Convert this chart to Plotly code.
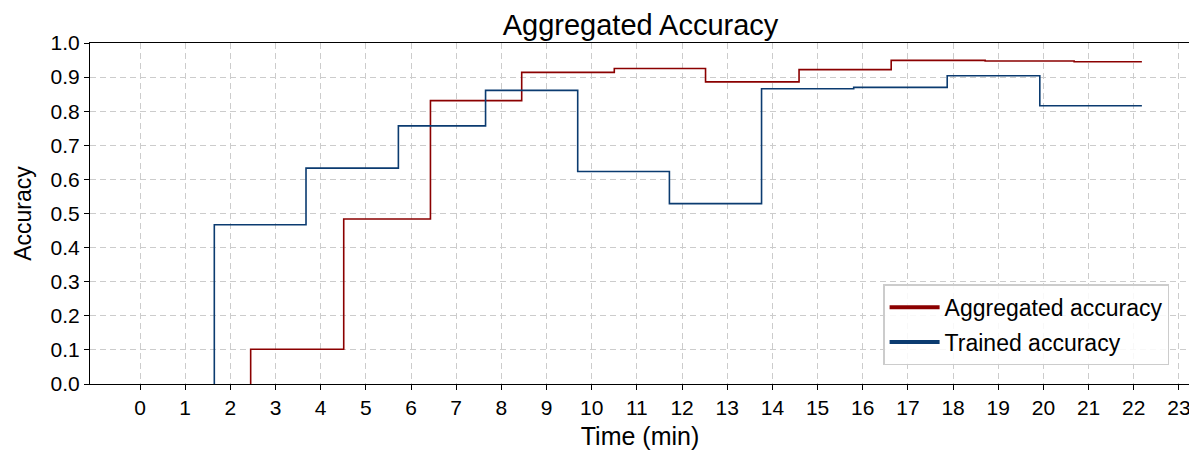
import plotly.graph_objects as go

# Step data (minutes, accuracy)
trained_times = [1.645, 3.675, 5.72, 7.65, 9.69, 11.72, 13.76, 15.8, 17.87, 19.92]
trained_vals = [0.467, 0.633, 0.757, 0.861, 0.623, 0.529, 0.866, 0.870, 0.904, 0.816]

agg_times = [2.45, 4.51, 6.43, 8.45, 10.5, 12.52, 14.59, 16.63, 18.71, 20.68]
agg_vals = [0.102, 0.484, 0.831, 0.914, 0.925, 0.886, 0.922, 0.949, 0.947, 0.945]

end_time = 22.18

x_ticks = list(range(0, 24))
y_ticks = [round(i * 0.1, 1) for i in range(11)]

RED = "#8B0000"
BLUE = "#0B3B70"


def step_xy(times, vals):
    xs = [times[0]] + times + [end_time]
    ys = [0.0] + vals + [vals[-1]]
    return xs, ys


fig = go.Figure()
ax, ay = step_xy(agg_times, agg_vals)
tx, ty = step_xy(trained_times, trained_vals)
fig.add_trace(go.Scatter(x=ax, y=ay, mode="lines", line=dict(color=RED, width=1.6, shape="hv"),
                         showlegend=False))
fig.add_trace(go.Scatter(x=tx, y=ty, mode="lines", line=dict(color=BLUE, width=1.6, shape="hv"),
                         showlegend=False))
# legend entries with thick lines
fig.add_trace(go.Scatter(x=[None], y=[None], mode="lines", line=dict(color=RED, width=4),
                         name="Aggregated accuracy", legendgroup="a"))
fig.add_trace(go.Scatter(x=[None], y=[None], mode="lines", line=dict(color=BLUE, width=4),
                         name="Trained accuracy", legendgroup="b"))

axis_common = dict(
    showline=True, linecolor="black", linewidth=1.2, mirror=True,
    ticks="outside", ticklen=5, tickwidth=1.2, tickcolor="black",
    showgrid=True, gridcolor="#cccccc", gridwidth=1, griddash="6px,4px",
    zeroline=False, tickfont=dict(size=21, color="black"), automargin=False,
)

fig.update_layout(
    width=1189, height=449,
    margin=dict(l=82, r=7, t=35, b=73),
    paper_bgcolor="white", plot_bgcolor="white",
    font=dict(family="Liberation Sans, Arial, sans-serif", color="black"),
    title=dict(text="Aggregated Accuracy", x=0.532, xanchor="center", y=0.963, yanchor="middle",
               font=dict(size=29, color="black")),
    xaxis=dict(range=[-1.107, 23.245], tickvals=x_ticks, ticktext=[str(v) for v in x_ticks],
               title=dict(text="Time (min)", font=dict(size=25), standoff=9), **axis_common),
    yaxis=dict(range=[0, 1.0], tickvals=y_ticks, ticktext=[f"{v:.1f}" for v in y_ticks],
               title=dict(text="Accuracy", font=dict(size=23), standoff=12), **axis_common),
    legend=dict(x=0.981, xanchor="right", y=0.055, yanchor="bottom",
                bgcolor="rgba(255,255,255,0.85)", bordercolor="#cccccc", borderwidth=1.5,
                font=dict(size=23, color="black"), itemwidth=50, tracegroupgap=2),
)

fig.write_html("out.html")
